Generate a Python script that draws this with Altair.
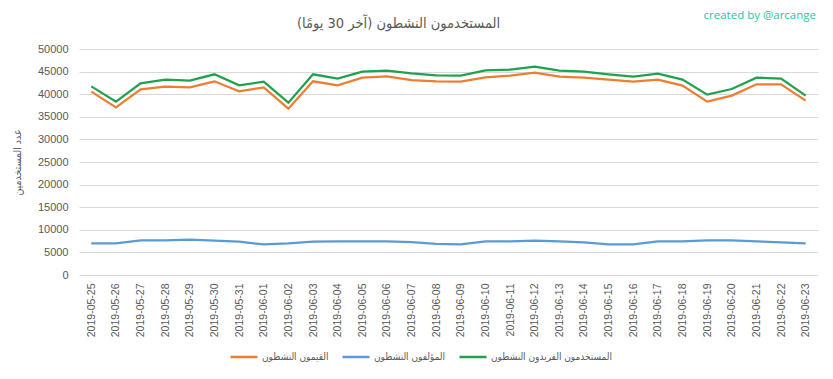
import altair as alt
import pandas as pd

dates = [
    "2019-05-25", "2019-05-26", "2019-05-27", "2019-05-28", "2019-05-29",
    "2019-05-30", "2019-05-31", "2019-06-01", "2019-06-02", "2019-06-03",
    "2019-06-04", "2019-06-05", "2019-06-06", "2019-06-07", "2019-06-08",
    "2019-06-09", "2019-06-10", "2019-06-11", "2019-06-12", "2019-06-13",
    "2019-06-14", "2019-06-15", "2019-06-16", "2019-06-17", "2019-06-18",
    "2019-06-19", "2019-06-20", "2019-06-21", "2019-06-22", "2019-06-23",
]

curators = [40560, 37090, 41080, 41670, 41520, 42850, 40630, 41520, 36800, 42850,
            41960, 43660, 43950, 43140, 42850, 42770, 43730, 44100, 44760, 43880,
            43660, 43220, 42770, 43220, 41890, 38350, 39680, 42180, 42180, 38570]

authors = [7000, 7000, 7670, 7670, 7820, 7600, 7370, 6780, 7000, 7370,
           7450, 7450, 7450, 7300, 6860, 6780, 7450, 7450, 7600, 7450,
           7230, 6780, 6780, 7450, 7450, 7670, 7670, 7450, 7230, 7000]

unique_users = [41740, 38350, 42400, 43220, 42990, 44400, 41960, 42770, 38130, 44400,
                43440, 44985, 45200, 44600, 44170, 44100, 45280, 45430, 46090, 45200,
                44985, 44400, 43880, 44540, 43220, 39900, 41150, 43660, 43440, 39680]

series_names = ["القيمون النشطون", "المؤلفون النشطون", "المستخدمون الفريدون النشطون"]
series_colors = ["#ED7D31", "#5B9BD5", "#1FA24F"]
y_ticks = [0, 5000, 10000, 15000, 20000, 25000, 30000, 35000, 40000, 45000, 50000]

title_text = ["المستخدمون النشطون (آخر 30 يومًا)"]
y_title = "عدد المستخدمين"
credit = ["created by @arcange"]

rows = []
for name, vals in zip(series_names, [curators, authors, unique_users]):
    for d, v in zip(dates, vals):
        rows.append({"date": d, "value": v, "series": name})
df = pd.DataFrame(rows)

grey = "#595959"

lines = alt.Chart(df).mark_line(strokeWidth=2.25).encode(
    x=alt.X(
        "date:O",
        sort=dates,
        scale=alt.Scale(type="point", padding=0.5),
        axis=alt.Axis(
            title=None, labelAngle=270, labelFontSize=10.5, labelColor=grey,
            labelPadding=8, ticks=False, domain=False, grid=False,
            labelFont="Liberation Sans",
        ),
    ),
    y=alt.Y(
        "value:Q",
        scale=alt.Scale(domain=[0, 50000]),
        axis=alt.Axis(
            values=y_ticks, format="d", title=y_title, titleX=-57, titleY=113,
            titleFontSize=10.5, titleFontWeight="normal", titleColor=grey,
            titleFont="DejaVu Sans Condensed", labelFontSize=11, labelColor=grey,
            labelFont="Liberation Sans", labelPadding=11, ticks=False,
            domain=False, gridColor="#D9D9D9", gridWidth=1,
        ),
    ),
    color=alt.Color(
        "series:N",
        scale=alt.Scale(domain=series_names, range=series_colors),
        legend=alt.Legend(
            title=None, orient="none", legendX=150, legendY=293,
            direction="horizontal", symbolType="stroke", symbolSize=729,
            symbolStrokeWidth=2.5, labelFontSize=10, labelColor=grey,
            labelFont="DejaVu Sans Condensed", columnPadding=8, labelOffset=3,
        ),
    ),
)

title_layer = alt.Chart(pd.DataFrame({"t": title_text})).mark_text(
    align="center", baseline="middle", fontSize=14.5, font="DejaVu Sans Condensed",
    color=grey,
).encode(
    text="t:N",
    x=alt.value(319.5),
    y=alt.value(-25),
)

credit_layer = alt.Chart(pd.DataFrame({"t": credit})).mark_text(
    align="right", baseline="middle", fontSize=11.5, font="Open Sans", color="#2BC4A0"
).encode(
    text="t:N",
    x=alt.value(737),
    y=alt.value(-33),
)

chart = alt.layer(lines, title_layer, credit_layer).properties(
    width=739,
    height=226,
    autosize=alt.AutoSizeParams(type="none"),
    padding={"left": 71, "top": 41, "right": 7, "bottom": 95},
    background="white",
).configure_view(stroke=None)

chart.save("out.html", embed_options={"renderer": "svg", "actions": False})
